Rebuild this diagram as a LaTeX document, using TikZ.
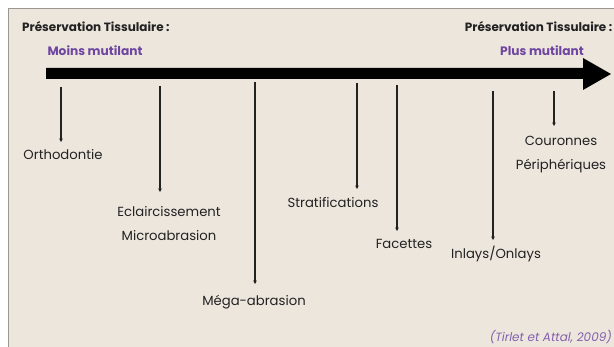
\documentclass[tikz,border=0pt]{standalone}
\usepackage{fontspec}
\setmainfont{Poppins}
\usetikzlibrary{arrows.meta,positioning}
\definecolor{paper}{HTML}{EDE6DD}
\definecolor{frame}{HTML}{9A9691}
\definecolor{mauve}{HTML}{6E45A0}
\definecolor{ink}{HTML}{222222}
\tikzstyle{head} = [font=\fontsize{12}{14}\selectfont\bfseries,text=ink,inner sep=0]
\tikzstyle{grade} = [font=\fontsize{12.2}{14}\selectfont\bfseries,text=mauve,inner sep=0]
\tikzstyle{soin} = [font=\fontsize{13.2}{16}\selectfont,text=ink,inner sep=0,align=center]
\tikzstyle{tick} = [-{Stealth[length=3.5pt,width=3.5pt]},ink,line width=1.3pt]

\begin{document}
\begin{tikzpicture}[x=1pt,y=-1pt]
      \useasboundingbox (0,0) rectangle (614,347);
      \fill[paper] (8,9) rectangle (614,347);
      \draw[frame,line width=1pt] (8,347) -- (8,9) -- (614,9);
      % en-tetes
      \node[head,anchor=west] (h1) at (22,27) {Préservation Tissulaire :};
      \node[grade] (g1) at (95,51) {Moins mutilant};
      \node[head,anchor=east] (h2) at (612.5,27) {Préservation Tissulaire :};
      \node[grade] (g2) at (542,51) {Plus mutilant};
      % grande fleche
      \fill[black] (46,68) -- (583,68) -- (583,58) -- (611,74) -- (583,90)
         -- (583,79) -- (46,79) -- cycle;
      % soins
      \node[soin] (ortho) at (63,155) {Orthodontie};
      \node[soin] (eclair) at (169,224) {Eclaircissement\\[8pt]Microabrasion};
      \node[soin] (mega) at (254,302) {Méga-abrasion};
      \node[soin] (strat) at (333,203) {Stratifications};
      \node[soin] (fac) at (404,244) {Facettes};
      \node[soin] (inlay) at (496,254) {Inlays/Onlays};
      \node[soin] (cour) at (561,155) {Couronnes\\[8pt]Périphériques};
      \coordinate (t1) at (61,87);   \coordinate (b1) at (61,142);
      \coordinate (t2) at (160,86);  \coordinate (b2) at (160,192);
      \coordinate (t3) at (255,82);  \coordinate (b3) at (255,284);
      \coordinate (t4) at (357,83);  \coordinate (b4) at (357,189);
      \coordinate (t5) at (397,85);  \coordinate (b5) at (397,231);
      \coordinate (t6) at (493,91);  \coordinate (b6) at (493,240);
      \coordinate (t7) at (554,91);  \coordinate (b7) at (554,126);
      \foreach \i in {1,...,7}
        \draw[tick] (t\i) -- (b\i);
      \node[font=\fontsize{12}{14}\selectfont\itshape,text=mauve!85,inner sep=0,anchor=east] (ref) at (612,337) {(Tirlet et Attal, 2009)};
\end{tikzpicture}
\end{document}
